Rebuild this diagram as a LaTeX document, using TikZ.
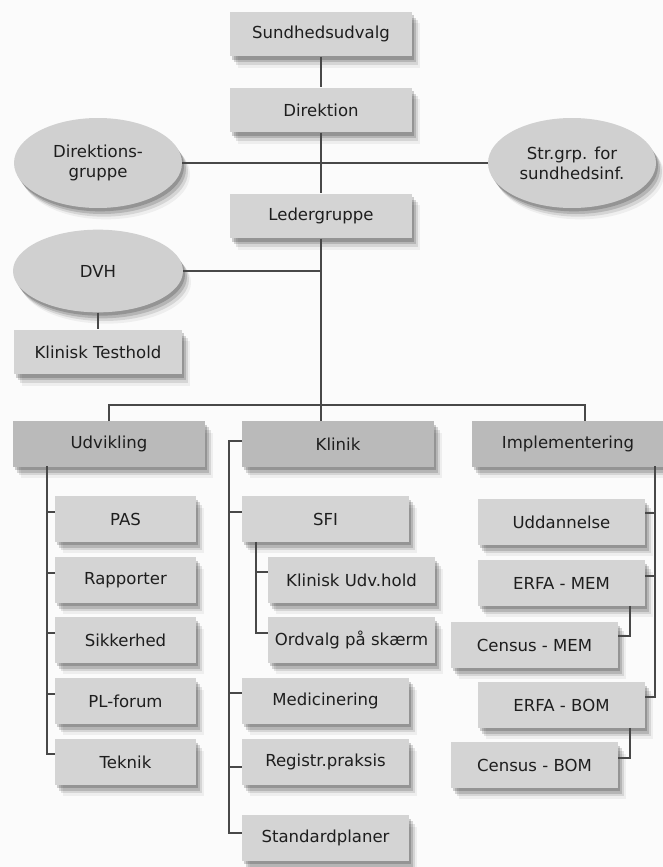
\documentclass[tikz,border=0pt]{standalone}
\usepackage{fontspec}
\setmainfont{DejaVu Sans}
\usetikzlibrary{shapes.geometric,shadows}

\definecolor{boxgray}{RGB}{212,212,212}
\definecolor{headgray}{RGB}{186,186,186}
\definecolor{ovalgray}{RGB}{208,208,208}
\definecolor{linegray}{RGB}{72,72,72}
\definecolor{txtgray}{RGB}{30,30,30}
\definecolor{paper}{RGB}{251,251,251}

\tikzset{
  soft shadow/.style={
    drop shadow={shadow xshift=1.5pt,shadow yshift=-2.5pt,opacity=.18,fill=black},
    drop shadow={shadow xshift=3pt,shadow yshift=-4.5pt,opacity=.15,fill=black},
    drop shadow={shadow xshift=4.5pt,shadow yshift=-6.5pt,opacity=.10,fill=black},
    drop shadow={shadow xshift=6pt,shadow yshift=-8.5pt,opacity=.05,fill=black}},
  box/.style={rectangle, fill=boxgray, soft shadow, text=txtgray, inner sep=0pt,
    minimum height=33.5pt, font=\fontsize{12.4}{15}\selectfont},
  topbox/.style={box, minimum width=136.5pt},
  head/.style={box, fill=headgray, minimum width=144pt, minimum height=34pt},
  udvbox/.style={box, minimum width=105.75pt, minimum height=34pt},
  klinbox/.style={box, minimum width=125pt, minimum height=34pt},
  oval/.style={ellipse, fill=ovalgray, soft shadow, text=txtgray, inner sep=0pt,
    align=center, font=\fontsize{12.4}{15}\selectfont},
  link/.style={draw=linegray, line width=1.5pt}
}

\begin{document}
\begin{tikzpicture}[x=0.75pt, y=-0.75pt]
  \fill[paper] (0,0) rectangle (663,867);
  \useasboundingbox (0,0) rectangle (663,867);

  % top of the tree
  \node[topbox] (sund) at (321,34) {Sundhedsudvalg};
  \node[topbox] (dir) at (321,110) {Direktion};
  \node[oval, minimum width=126pt, minimum height=67.5pt] (dgrp) at (98,163) {Direktions-\\gruppe};
  \node[oval, minimum width=126pt, minimum height=67.5pt] (strgrp) at (572,163) {Str.grp. for\\sundhedsinf.};
  \node[topbox] (led) at (321,216) {Ledergruppe};
  \node[oval, minimum width=127.5pt, minimum height=62pt] (dvh) at (98,271) {DVH};
  \node[box, minimum width=126pt] (test) at (98,352) {Klinisk Testhold};

  % the three columns
  \node[head] (udv) at (109,444) {Udvikling};
  \node[head] (klin) at (338,444) {Klinik};
  \node[head] (impl) at (568,444) {Implementering};

  \node[udvbox] (pas) at (125.5,519) {PAS};
  \node[udvbox] (rap) at (125.5,580) {Rapporter};
  \node[udvbox] (sik) at (125.5,640) {Sikkerhed};
  \node[udvbox] (plf) at (125.5,701) {PL-forum};
  \node[udvbox] (tek) at (125.5,762) {Teknik};

  \node[klinbox] (sfi) at (325.5,519) {SFI};
  \node[klinbox] (kud) at (351.5,580) {Klinisk Udv.hold};
  \node[klinbox] (ord) at (351.5,640) {Ordvalg på skærm};
  \node[klinbox] (med) at (325.5,701) {Medicinering};
  \node[klinbox] (reg) at (325.5,762) {Registr.praksis};
  \node[klinbox] (std) at (325.5,838) {Standardplaner};

  \node[klinbox] (udd) at (561.5,522) {Uddannelse};
  \node[klinbox] (emem) at (561.5,583) {ERFA - MEM};
  \node[klinbox] (cmem) at (534.5,645) {Census - MEM};
  \node[klinbox] (ebom) at (561.5,705) {ERFA - BOM};
  \node[klinbox] (cbom) at (534.5,765) {Census - BOM};

  % connectors
  \draw[link] (sund) -- (dir);
  \draw[link] (dir) -- (led);
  \draw[link] (dgrp) -- (strgrp);
  \draw[link] (dvh) -- (dvh -| led.south);
  \draw[link] (dvh) -- (test);
  \coordinate (bar) at (321,405);
  \draw[link] (led.south) -- (led.south |- klin.north);
  \draw[link] (udv.north) |- (bar) -| ([xshift=12.75pt]impl.north);

  \coordinate (uline) at (47,466);
  \draw[link] (uline) |- ([yshift=6pt]tek.west);
  \foreach \n in {pas,rap,sik,plf}
    \draw[link] ([yshift=5pt]\n.west) -- ++(-6pt,0);

  \draw[link] ([yshift=2pt]klin.west) -- ++(-9.75pt,0) |- ([yshift=4pt]std.west);
  \foreach \n/\s in {sfi/5pt, med/6pt, reg/-4pt}
    \draw[link] ([yshift=\s]\n.west) -- ++(-9pt,0);
  \draw[link] ([xshift=10.5pt]sfi.south west) |- ([yshift=5pt]ord.west);
  \draw[link] ([yshift=6pt]kud.west) -- ++(-9pt,0);

  \coordinate (iline) at (655,466);
  \draw[link] (iline) |- ([yshift=6pt]ebom.east);
  \foreach \n/\s in {udd/7pt, emem/5pt}
    \draw[link] ([yshift=\s]\n.east) -- ++(7.5pt,0);
  \draw[link] ([xshift=-11.25pt]emem.south east) |- ([yshift=7pt]cmem.east);
  \draw[link] ([xshift=-11.25pt]ebom.south east) |- ([yshift=5pt]cbom.east);
\end{tikzpicture}
\end{document}
